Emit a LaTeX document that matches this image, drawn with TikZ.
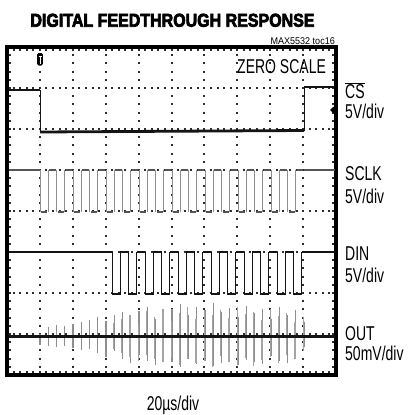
\documentclass[tikz,border=0pt]{standalone}
\usepackage{fontspec}
\setmainfont{Liberation Sans}
\newfontfamily\titlefont[FakeBold=4]{Liberation Sans Bold}
\usepackage{graphicx}
\usepackage{tikz}
\usetikzlibrary{positioning}
\definecolor{trace}{HTML}{141414}
\definecolor{gridgray}{HTML}{2E2E2E}
\definecolor{clkgray}{HTML}{555555}
\definecolor{spikegray}{HTML}{8E8E8E}
\newcommand{\cond}[1]{\scalebox{0.7}[1]{#1}}

\begin{document}
\begin{tikzpicture}[x=1pt, y=-1pt,
  label text/.style={inner sep=0pt, anchor=base west, font=\fontsize{20}{22}\selectfont},
  grid v/.style={gridgray, line width=2pt, dash pattern=on 2pt off 6.2pt},
  grid h/.style={gridgray, line width=2pt, dash pattern=on 2pt off 4.58pt},
  trace line/.style={trace, line width=2.8pt},
  clk line/.style={clkgray, line width=2.4pt},
  edge line/.style={spikegray, line width=0.7pt},
  din edge/.style={trace, line width=0.9pt},
  spike line/.style={spikegray, line width=1.2pt}]
  \useasboundingbox (0,0) rectangle (407,415);

  % Graticule
  \foreach \gx in {10, 39.9, 72.8, 105.7, 138.6, 171.5, 204.4, 237.3, 270.2, 303.1, 333}
    \draw[grid v] (\gx,46) -- (\gx,376);
  \foreach \gy in {50, 88, 129, 170, 211, 252, 293, 334, 372}
    \draw[grid h] (6,\gy) -- (337,\gy);
  \draw[line width=3.5pt] (7,47) rectangle (336,375);

  % Markers
  \fill[rounded corners=1.5pt] (37.2,53) rectangle (42.8,65.5);
  \draw[white, line width=0.8pt] (38.5,56) -- (41.5,56) (40,56) -- (40,63.5);
  \fill (330,110) -- (333.8,106.5) -- (333.8,113.5) -- cycle;

  % CS
  \draw[trace line] (8.5,90) -- (40,90);
  \draw[edge line, trace] (40,90) -- (40,132);
  \draw[trace line] (40,132) -- (304,130.5);
  \draw[edge line, trace] (304,130.5) -- (304,87);
  \draw[trace line] (304,87) -- (334.5,87);

  % SCLK
  \draw[clk line] (8.5,170) -- (40,170);
  \draw[clk line] (304,170) -- (334.5,170);
  \foreach \k in {0,...,15} {
    \draw[edge line] ({40+16.5*\k},170) -- ++(0,42) ++(8.25,0) -- ++(0,-42);
    \draw[clk line] ({41+16.5*\k},212) -- ++(6.25,0);
    \draw[clk line] ({49.25+16.5*\k},170) -- ++(6.25,0);
  }

  % DIN
  \draw[trace line] (8.5,252) -- (112,252);
  \draw[trace line] (301.75,252) -- (334.5,252);
  \foreach \j in {0,...,11} {
    \draw[din edge] ({112+16.5*\j},252) -- ++(0,42) -- ++(8.25,0) -- ++(0,-42);
    \draw[trace line] ({112+16.5*\j},294) -- ++(8.25,0);
  }
  \foreach \j in {0,...,10}
    \draw[trace line] ({120.25+16.5*\j},252) -- ++(8.25,0);

  % OUT
  \foreach \u/\d [count=\k from 0] in {3/8, 10/9, 12/10, 11/9, 13/11, 15/13, 17/12, 20/16,
      16/20, 22/14, 25/22, 20/26, 26/18, 30/24, 18/28, 24/20, 28/25, 33/30, 22/22, 30/27,
      27/24, 34/29, 25/26, 29/21, 20/28, 31/23, 24/25, 28/27, 18/19, 30/24, 22/26, 27/17, 15/10}
    \draw[spike line] ({40+8.25*\k},{336.5-\u}) -- ++(0,{\u+\d});
  \foreach \u/\d [count=\j from 0] in {14/12, 18/16, 22/20, 12/24, 26/18, 20/22, 28/25, 16/20,
      24/28, 30/22, 18/26, 26/24, 22/30, 27/19, 19/25, 30/27, 23/21, 25/29, 17/23, 28/20,
      21/26, 24/18, 15/22, 20/14}
    \draw[spike line, spikegray!80] ({113.5+8.25*\j},{336.5-\u}) -- ++(0,{\u+\d});
  \draw[trace line, line width=3.4pt] (8.5,336.5) -- (334.5,336.5);

  % Texts
  \node[inner sep=0pt, anchor=base, font=\titlefont\fontsize{18.6}{20}\selectfont] (title)
    at (172.5,26.7) {\scalebox{0.86}[1]{DIGITAL FEEDTHROUGH RESPONSE}};
  \node[inner sep=0pt, anchor=base east, font=\fontsize{9.8}{11}\selectfont] (tocref)
    at (335,44) {\scalebox{0.92}[1]{MAX5532 toc16}};
  \node[label text] (zero) at (237,73) {\cond{ZERO SCALE}};
  \node[label text] (cs) at (345,98.5) {\cond{$\overline{\mbox{CS}}$}};
  \node[label text] (csdiv) at (345,118) {\cond{5V/div}};
  \node[label text] (sclk) at (345,180) {\cond{SCLK}};
  \node[label text] (sclkdiv) at (345,203) {\cond{5V/div}};
  \node[label text] (din) at (345,260) {\cond{DIN}};
  \node[label text] (dindiv) at (345,282) {\cond{5V/div}};
  \node[label text] (out) at (345,340) {\cond{OUT}};
  \node[label text] (outdiv) at (345,360) {\cond{50mV/div}};
  \node[label text, anchor=base] (timediv) at (173,410) {\cond{20µs/div}};
\end{tikzpicture}
\end{document}
